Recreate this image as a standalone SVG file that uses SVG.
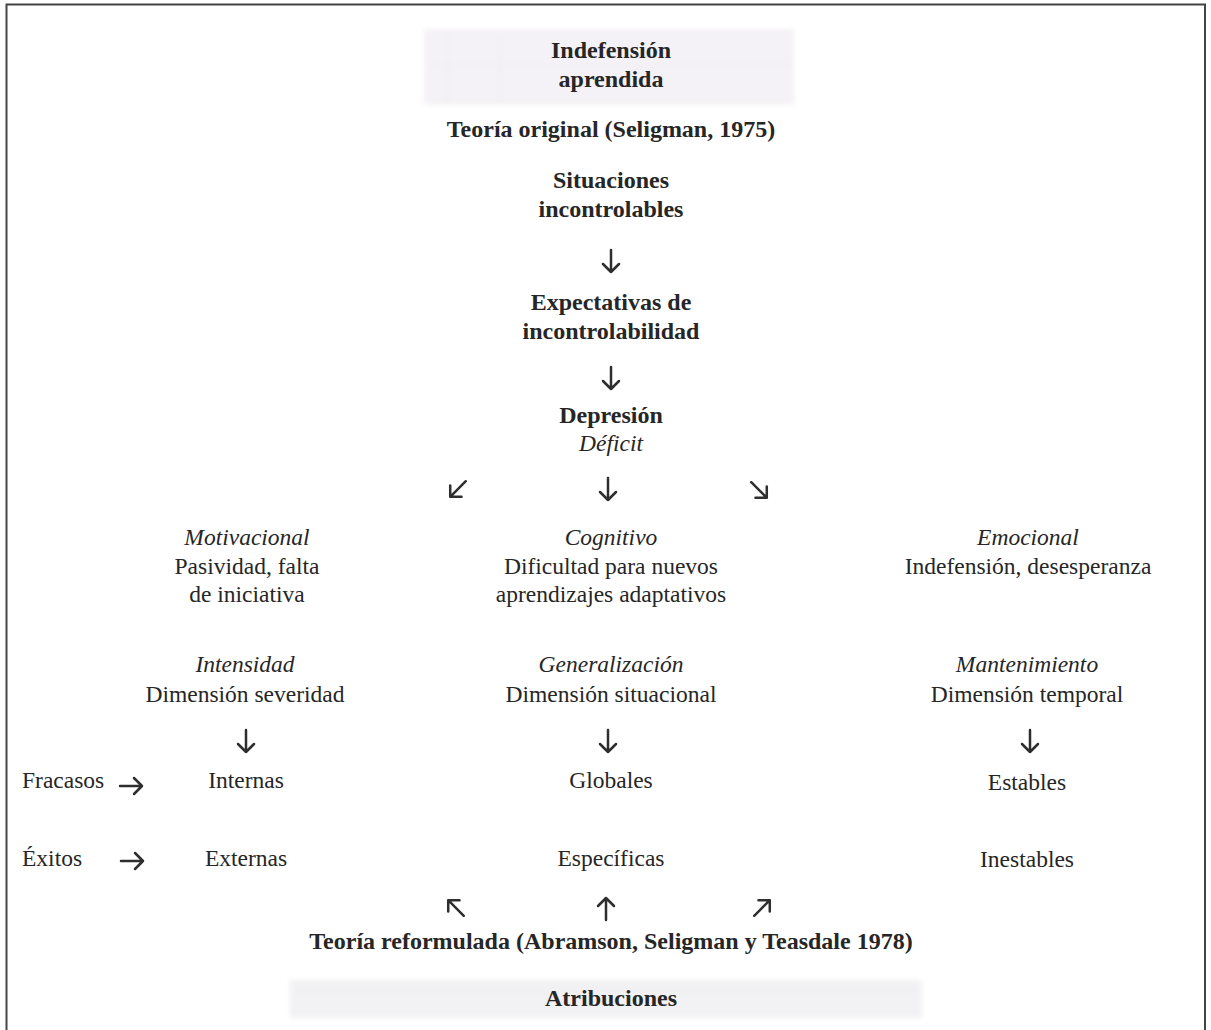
<svg xmlns="http://www.w3.org/2000/svg" width="1211" height="1030" viewBox="0 0 1211 1030">
  <style>
    text { font-family: "Liberation Serif", "Times New Roman", serif; fill: #262626; text-anchor: middle; }
    .b { font-size: 24px; font-weight: bold; }
    .r { font-size: 23.5px; }
    .i { font-size: 23.5px; font-style: italic; }
    .l { text-anchor: start; }
    .arr { fill: none; stroke: #2e2e2e; stroke-width: 2.5; stroke-linecap: round; stroke-linejoin: round; }
  </style>
  <defs>
    <filter id="soft" x="-5%" y="-20%" width="110%" height="140%">
      <feGaussianBlur stdDeviation="2.5"/>
    </filter>
    <!-- small arrow pointing down, centred on the origin -->
    <path id="ad" d="M0,-11 V11 M-8,3 L0,11 L8,3"/>
  </defs>

  <rect width="1211" height="1030" fill="#ffffff"/>

  <!-- page frame, open at the bottom -->
  <path d="M6.5,1030 V4.5 H1205 V1030" fill="none" stroke="#444" stroke-width="2"/>

  <!-- shaded header and footer bands -->
  <g filter="url(#soft)">
    <rect x="424" y="29" width="370" height="76" fill="#f4f2f6"/>
    <rect x="290" y="980" width="632" height="38" fill="#f2f1f3"/>
  </g>
  <g stroke="#e8e5ec" stroke-width="1.2" opacity="0.5" filter="url(#soft)">
    <line x1="430" y1="66" x2="790" y2="66"/>
    <line x1="447" y1="32" x2="447" y2="102"/>
    <line x1="500" y1="32" x2="500" y2="102"/>
    <line x1="296" y1="990" x2="916" y2="990"/>
  </g>

  <g id="title">
    <text class="b" x="611" y="58">Indefensión</text>
    <text class="b" x="611" y="87">aprendida</text>
  </g>
  <g id="teoria-original">
    <text class="b" x="611" y="137">Teoría original (Seligman, 1975)</text>
  </g>
  <g id="situaciones">
    <text class="b" x="611" y="188">Situaciones</text>
    <text class="b" x="611" y="217">incontrolables</text>
  </g>
  <g id="expectativas">
    <text class="b" x="611" y="310">Expectativas de</text>
    <text class="b" x="611" y="339">incontrolabilidad</text>
  </g>
  <g id="depresion">
    <text class="b" x="611" y="423">Depresión</text>
    <text class="i" x="611" y="451">Déficit</text>
  </g>

  <g id="motivacional">
    <text class="i" x="247" y="545">Motivacional</text>
    <text class="r" x="247" y="574">Pasividad, falta</text>
    <text class="r" x="247" y="602">de iniciativa</text>
  </g>
  <g id="cognitivo">
    <text class="i" x="611" y="545">Cognitivo</text>
    <text class="r" x="611" y="574">Dificultad para nuevos</text>
    <text class="r" x="611" y="602">aprendizajes adaptativos</text>
  </g>
  <g id="emocional">
    <text class="i" x="1028" y="545">Emocional</text>
    <text class="r" x="1028" y="574">Indefensión, desesperanza</text>
  </g>

  <g id="intensidad">
    <text class="i" x="245" y="672">Intensidad</text>
    <text class="r" x="245" y="702">Dimensión severidad</text>
  </g>
  <g id="generalizacion">
    <text class="i" x="611" y="672">Generalización</text>
    <text class="r" x="611" y="702">Dimensión situacional</text>
  </g>
  <g id="mantenimiento">
    <text class="i" x="1027" y="672">Mantenimiento</text>
    <text class="r" x="1027" y="702">Dimensión temporal</text>
  </g>

  <g id="fracasos"><text class="r l" x="22" y="788">Fracasos</text></g>
  <g id="exitos"><text class="r l" x="22" y="866">Éxitos</text></g>
  <g id="internas"><text class="r" x="246" y="788">Internas</text></g>
  <g id="externas"><text class="r" x="246" y="866">Externas</text></g>
  <g id="globales"><text class="r" x="611" y="788">Globales</text></g>
  <g id="especificas"><text class="r" x="611" y="866">Específicas</text></g>
  <g id="estables"><text class="r" x="1027" y="790">Estables</text></g>
  <g id="inestables"><text class="r" x="1027" y="867">Inestables</text></g>

  <g id="teoria-reformulada">
    <text class="b" x="611" y="949">Teoría reformulada (Abramson, Seligman y Teasdale 1978)</text>
  </g>
  <g id="atribuciones">
    <text class="b" x="611" y="1006">Atribuciones</text>
  </g>

  <g id="connectors" class="arr">
    <use href="#ad" transform="translate(611,261)"/>
    <use href="#ad" transform="translate(611,378)"/>
    <use href="#ad" transform="translate(458,489) rotate(45)"/>
    <use href="#ad" transform="translate(608,489)"/>
    <use href="#ad" transform="translate(759,490) rotate(-45)"/>
    <use href="#ad" transform="translate(246,741)"/>
    <use href="#ad" transform="translate(608,741)"/>
    <use href="#ad" transform="translate(1030,741)"/>
    <use href="#ad" transform="translate(131,786) rotate(-90)"/>
    <use href="#ad" transform="translate(132,861) rotate(-90)"/>
    <use href="#ad" transform="translate(456,908) rotate(135)"/>
    <use href="#ad" transform="translate(606,909) rotate(180)"/>
    <use href="#ad" transform="translate(762,908) rotate(-135)"/>
  </g>
</svg>
